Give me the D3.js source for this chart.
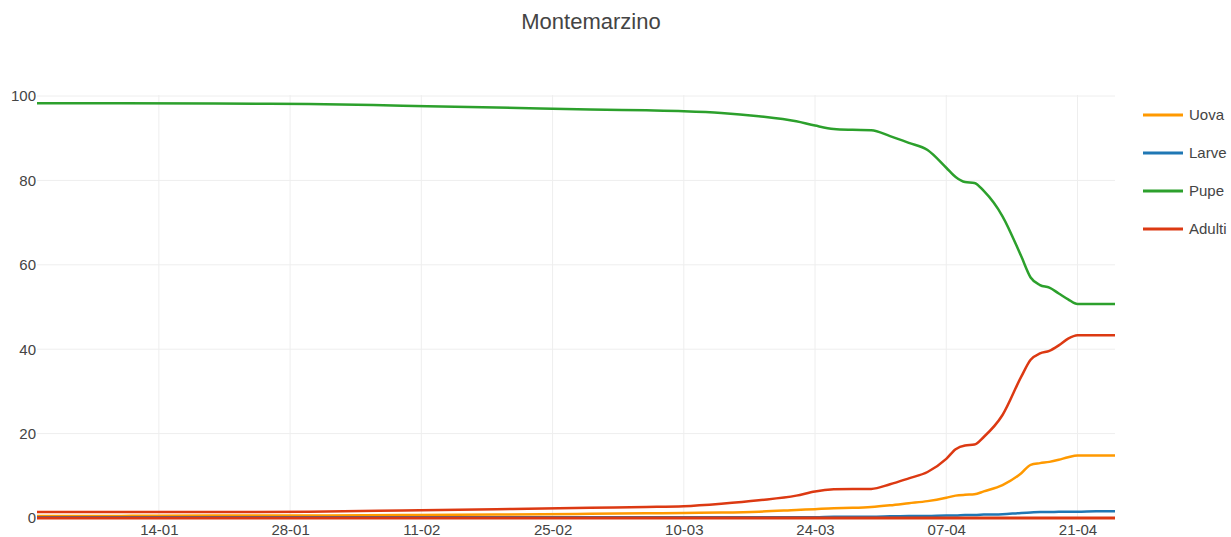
<!DOCTYPE html>
<html>
<head>
<meta charset="utf-8">
<script src="https://cdn.jsdelivr.net/npm/d3@7"></script>
<style>
  html, body { margin: 0; padding: 0; background: #fff; }
  svg { display: block; font-family: "Liberation Sans", Arial, sans-serif; }
</style>
</head>
<body>
<svg id="chart" width="1231" height="537"></svg>
<script>
const title = "Montemarzino";
const dates = ["01-01","10-01","20-01","30-01","09-02","19-02","29-02","06-03","10-03","14-03","18-03","22-03","24-03","26-03","28-03","30-03","01-04","03-04","05-04","07-04","08-04","09-04","10-04","11-04","13-04","15-04","16-04","17-04","18-04","19-04","20-04","21-04","23-04","25-04"];
const uova   = [0.5,0.5,0.6,0.6,0.7,0.8,1.0,1.1,1.2,1.3,1.5,1.9,2.1,2.3,2.4,2.6,3.0,3.5,4.0,4.8,5.3,5.5,5.6,6.3,7.8,10.6,12.6,13.0,13.3,13.8,14.4,14.8,14.8,14.8];
const larve  = [0.2,0.2,0.2,0.2,0.2,0.2,0.2,0.2,0.2,0.2,0.2,0.2,0.2,0.3,0.3,0.3,0.4,0.5,0.5,0.6,0.6,0.7,0.7,0.8,0.9,1.2,1.3,1.4,1.4,1.5,1.5,1.5,1.6,1.6];
const pupe   = [98.3,98.3,98.2,98.1,97.7,97.3,96.8,96.6,96.4,96.0,95.2,94.0,93.0,92.2,92.0,91.9,90.5,88.9,87.2,83.0,80.8,79.6,79.4,77.5,71.5,62.0,57.0,55.2,54.6,53.2,51.8,50.7,50.7,50.7];
const adulti = [1.4,1.4,1.4,1.5,1.8,2.1,2.4,2.6,2.8,3.4,4.2,5.3,6.3,6.8,6.9,6.9,8.0,9.4,10.9,14.0,16.3,17.2,17.4,19.2,24.4,33.5,37.5,39.0,39.6,40.9,42.5,43.3,43.3,43.3];
const seriesNames = ["Uova","Larve","Pupe","Adulti"];
const seriesColors = ["#ff9900","#1f77b4","#2ca02c","#dc3912"];
const xTickLabels = ["14-01","28-01","11-02","25-02","10-03","24-03","07-04","21-04"];
const yTicks = [0,20,40,60,80,100];
const year = 2020;
const xStart = "01-01", xEnd = "25-04";

const parse = s => { const [d,m] = s.split("-").map(Number); return new Date(year, m-1, d); };
const svg = d3.select("#chart");
const M = {left: 37, right: 1115, top: 96, bottom: 518};

const x = d3.scaleTime().domain([parse(xStart), parse(xEnd)]).range([M.left, M.right]);
const y = d3.scaleLinear().domain([0,100]).range([M.bottom, M.top]);

// title
svg.append("text").attr("x", 591).attr("y", 29).attr("text-anchor","middle")
  .attr("font-size", 22).attr("fill","#444").text(title);

// grid
const g = svg.append("g");
g.selectAll(".vg").data(xTickLabels).enter().append("line")
  .attr("x1", d => x(parse(d))).attr("x2", d => x(parse(d)))
  .attr("y1", M.top - 1).attr("y2", M.bottom).attr("stroke","#eee").attr("stroke-width",1);
g.selectAll(".hg").data(yTicks.filter(t => t > 0)).enter().append("line")
  .attr("x1", M.left).attr("x2", M.right)
  .attr("y1", d => y(d)).attr("y2", d => y(d)).attr("stroke","#eee").attr("stroke-width",1);

// axes labels
const xAxis = d3.axisBottom(x).tickValues(xTickLabels.map(parse)).tickFormat((d,i) => xTickLabels[i]).tickSize(0).tickPadding(6);
const xg = svg.append("g").attr("transform", `translate(0,${M.bottom})`).call(xAxis);
xg.select(".domain").remove();
xg.selectAll("text").attr("font-size", 15).attr("fill","#444").attr("font-family","Liberation Sans, Arial, sans-serif");

const yAxis = d3.axisLeft(y).tickValues(yTicks).tickSize(0).tickPadding(1);
const yg = svg.append("g").attr("transform", `translate(${M.left},0)`).call(yAxis);
yg.select(".domain").remove();
yg.selectAll("text").attr("font-size", 15).attr("fill","#444").attr("font-family","Liberation Sans, Arial, sans-serif");

// lines
const allSeries = [uova, larve, pupe, adulti];
const line = d3.line().x((d,i) => x(parse(dates[i]))).y(d => y(d)).curve(d3.curveMonotoneX);
const drawOrder = [2, 3, 0, 1];
drawOrder.forEach(k => {
  svg.append("path").datum(allSeries[k]).attr("d", line)
    .attr("fill","none").attr("stroke", seriesColors[k]).attr("stroke-width", 2.5)
    .attr("stroke-linejoin","round");
});

// zero baseline
svg.append("line").attr("x1", M.left).attr("x2", M.right)
  .attr("y1", y(0)).attr("y2", y(0)).attr("stroke", seriesColors[3]).attr("stroke-width", 3);

// legend
const lg = svg.append("g");
seriesNames.forEach((n, i) => {
  const ly = 115 + i * 38;
  lg.append("line").attr("x1", 1143).attr("x2", 1183).attr("y1", ly).attr("y2", ly)
    .attr("stroke", seriesColors[i]).attr("stroke-width", 3);
  lg.append("text").attr("x", 1189).attr("y", ly + 5).attr("font-size", 15).attr("fill","#444").text(n);
});
</script>
</body>
</html>
